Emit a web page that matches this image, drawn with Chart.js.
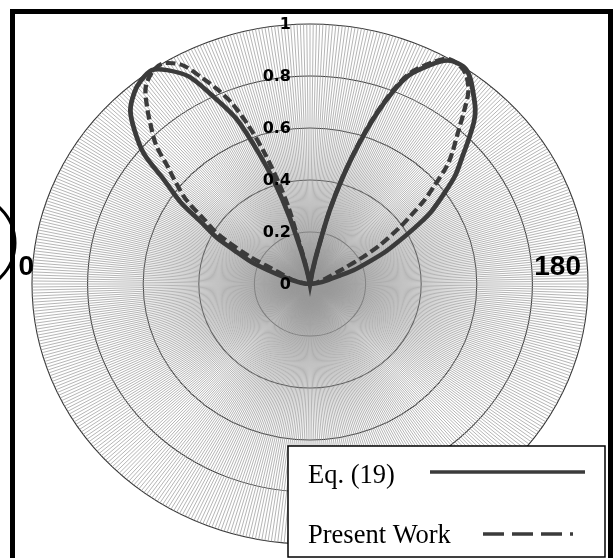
<!DOCTYPE html>
<html>
<head>
<meta charset="utf-8">
<script src="https://cdn.jsdelivr.net/npm/chart.js@4.4.1/dist/chart.umd.min.js"></script>
<style>
  html, body { margin: 0; padding: 0; background: #fff; overflow: hidden; }
  canvas { display: block; }
</style>
</head>
<body>
<canvas id="polarChart" width="613" height="558"></canvas>
<script>
// polar grid: one spoke per category
const spokeCount = 540;
const angleStep = 360 / spokeCount;
const edgeLabels = [0, 180];
const tickLabels = [0, 0.2, 0.4, 0.6, 0.8, 1];
const seriesNames = ['Eq. (19)', 'Present Work'];

// Eq. (19): angle (deg) and normalised value
const eqAngles = [0, 5, 10, 15, 19, 22, 25, 28, 31, 34, 37, 40, 43, 46, 49, 52, 55, 58, 61, 64, 67, 70, 72, 74, 76, 78, 80, 85, 90, 95, 98,
  100, 102, 104, 106, 108, 110, 112, 114, 117, 119, 121, 124, 126, 128, 131, 133, 136, 138, 141, 144, 147, 149, 152, 155, 158, 161, 163, 167, 172, 180];
const eqValues = [0, 0.02, 0.045, 0.09, 0.16, 0.23, 0.3, 0.38, 0.46, 0.56, 0.66, 0.78, 0.87, 0.93, 0.97, 0.99, 1.0, 0.97, 0.91, 0.81, 0.69, 0.53, 0.41, 0.27, 0.13, 0.05, 0.01, 0, 0, 0, 0,
  0.05, 0.13, 0.29, 0.43, 0.56, 0.69, 0.8, 0.88, 0.95, 0.985, 1.0, 1.0, 0.98, 0.95, 0.9, 0.86, 0.79, 0.74, 0.67, 0.6, 0.52, 0.46, 0.38, 0.3, 0.23, 0.165, 0.11, 0.06, 0.03, 0];

// Present Work
const pwAngles = [0, 5, 10, 15, 20, 23, 26, 30, 33, 36, 39, 41, 44, 47, 49, 52, 55, 58, 61, 64, 66, 68, 70, 72, 74, 75, 76, 77, 79, 82, 90, 98,
  100, 102, 104, 106, 108, 110, 112, 114, 117, 120, 124, 127, 130, 132, 135, 137, 140, 142, 144, 146, 149, 151, 154, 158, 165, 172, 180];
const pwValues = [0, 0.015, 0.035, 0.07, 0.1, 0.15, 0.24, 0.38, 0.46, 0.55, 0.63, 0.68, 0.77, 0.85, 0.9, 0.96, 0.995, 1.0, 0.96, 0.88, 0.82, 0.75, 0.65, 0.53, 0.4, 0.3, 0.2, 0.11, 0.03, 0, 0, 0,
  0.05, 0.13, 0.29, 0.43, 0.57, 0.7, 0.81, 0.89, 0.96, 1.0, 0.99, 0.94, 0.86, 0.8, 0.72, 0.67, 0.58, 0.52, 0.45, 0.39, 0.29, 0.22, 0.13, 0.07, 0.03, 0.01, 0];

const lineColor = '#3b3b3b';
const stretchX = 278 / 260;   // the original plot is a little wider than tall

const categories = Array.from({ length: spokeCount }, (_, i) => (i * angleStep).toFixed(2));

function toSpokes(angles, values) {
  const out = new Array(spokeCount).fill(null);
  angles.forEach((a, i) => { out[Math.round(a / angleStep)] = values[i]; });
  return out;
}

const decorPlugin = {
  id: 'decor',
  beforeDraw(chart) {
    const s = chart.scales.r, ctx = chart.ctx;
    ctx.save();
    ctx.translate(s.xCenter, s.yCenter);
    ctx.scale(stretchX, 1);
    ctx.translate(-s.xCenter, -s.yCenter);
  },
  afterDatasetsDraw(chart) {
    chart.ctx.restore();
  },
  afterDraw(chart) {
    const s = chart.scales.r, ctx = chart.ctx;
    ctx.save();

    // radial tick labels, left of the vertical axis
    ctx.fillStyle = '#000';
    ctx.font = 'bold 16px "DejaVu Sans"';
    ctx.textAlign = 'right';
    ctx.textBaseline = 'middle';
    tickLabels.forEach(v => {
      const y = s.yCenter - s.getDistanceFromCenterForValue(v);
      ctx.fillText(String(v), s.xCenter - 19, y + 1);
    });

    // 0 and 180 angle labels
    ctx.font = 'bold 28px "Liberation Sans"';
    edgeLabels.forEach(a => {
      const p = s.getPointPosition(Math.round(a / angleStep), s.drawingArea);
      const x = s.xCenter + (p.x - s.xCenter) * stretchX;
      if (a === 0) ctx.fillText(String(a), x + 2, p.y - 17);
      else ctx.fillText(String(a), x - 7, p.y - 17);
    });

    // legend box
    const box = { left: 288, top: 446, right: 605, bottom: 557 };
    ctx.fillStyle = '#fff';
    ctx.fillRect(box.left, box.top, box.right - box.left, box.bottom - box.top);
    ctx.strokeStyle = '#000';
    ctx.lineWidth = 1.5;
    ctx.strokeRect(box.left, box.top, box.right - box.left, box.bottom - box.top);

    ctx.fillStyle = '#000';
    ctx.font = '26.5px "Liberation Serif"';
    ctx.textAlign = 'left';
    ctx.textBaseline = 'alphabetic';
    const ds = chart.data.datasets;
    ctx.fillText(ds[0].label, 308, 483);
    ctx.fillText(ds[1].label, 308, 543);

    ctx.strokeStyle = lineColor;
    ctx.lineWidth = 3.5;
    ctx.beginPath();
    ctx.moveTo(430, 472); ctx.lineTo(585, 472);
    ctx.stroke();
    ctx.setLineDash([21, 8]);
    ctx.beginPath();
    ctx.moveTo(483, 534); ctx.lineTo(573, 534);
    ctx.stroke();
    ctx.setLineDash([]);

    // outer frame and the stray circle at the left edge
    ctx.strokeStyle = '#000';
    ctx.lineWidth = 5;
    ctx.strokeRect(12.5, 11.5, 598, 620);
    ctx.lineWidth = 3;
    ctx.beginPath();
    ctx.arc(-33, 243, 48, 0, Math.PI * 2);
    ctx.stroke();

    ctx.restore();
  }
};

new Chart(document.getElementById('polarChart'), {
  type: 'radar',
  data: {
    labels: categories,
    datasets: [{
      label: seriesNames[0],
      data: toSpokes(eqAngles, eqValues),
      borderColor: lineColor,
      borderWidth: 4.5,
      fill: false,
      spanGaps: true
    }, {
      label: seriesNames[1],
      data: toSpokes(pwAngles, pwValues),
      borderColor: lineColor,
      borderWidth: 4,
      borderDash: [9, 4],
      fill: false,
      spanGaps: true
    }]
  },
  options: {
    responsive: false,
    animation: false,
    layout: { padding: { top: 24, bottom: 14, left: 50, right: 43 } },
    plugins: { legend: { display: false }, tooltip: { enabled: false } },
    elements: { point: { radius: 0 }, line: { tension: 0.3 } },
    scales: {
      r: {
        min: 0,
        max: 1,
        startAngle: -90,
        ticks: { display: false, stepSize: 0.2 },
        pointLabels: { display: false },
        grid: { circular: true, color: '#333333', lineWidth: 1 },
        angleLines: { display: true, color: '#999999', lineWidth: 0.7 }
      }
    }
  },
  plugins: [decorPlugin]
});
</script>
</body>
</html>
